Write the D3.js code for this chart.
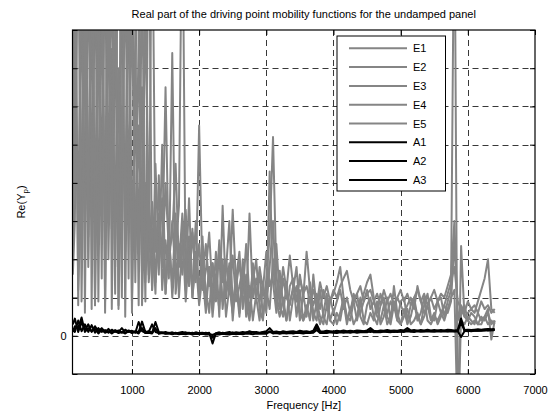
<!DOCTYPE html>
<html><head><meta charset="utf-8">
<script src="https://cdn.jsdelivr.net/npm/d3@7"></script>
<style>
body{margin:0;background:#fff}
svg{display:block}
text{font-family:"Liberation Sans",Arial,Helvetica,sans-serif;fill:#000}
</style>
</head><body>
<svg id="c" width="549" height="411"></svg>
<script>
// ---------------- data ----------------
const freq = [120,150,200,250,300,350,400,450,500,550,600,650,700,750,800,850,900,950,1000,1050,
1100,1150,1200,1250,1300,1350,1400,1450,1500,1550,1600,1650,1700,1750,1800,1850,1900,1950,2000,2050,
2100,2150,2200,2250,2300,2350,2400,2450,2500,2550,2600,2650,2700,2750,2800,2850,2900,2950,3000,3050,
3100,3150,3200,3250,3300,3350,3400,3450,3500,3550,3600,3650,3700,3750,3800,3850,3900,3950,4000,4050,
4100,4150,4200,4250,4300,4350,4400,4450,4500,4550,4600,4650,4700,4750,4800,4850,4900,4950,5000,5050,
5100,5150,5200,5250,5300,5350,5400,5450,5500,5550,5600,5650,5700,5750,5800,5850,5900,5950,6000,6050,
6100,6150,6200,6250,6300,6350,6400];

const E1 = [2.0,12,0.8,9.0,3.0,14,0.7,10,2.5,13,
0.6,8.5,4.0,12,0.8,9.5,2.2,11,0.6,6.0,
2.8,6.5,0.9,12,1.2,4.5,2.0,3.6,1.1,2.8,
1.0,2.2,3.4,12,1.2,2.6,1.0,2.0,0.8,1.6,
0.6,1.8,0.7,2.2,0.5,3.4,1.0,1.9,0.4,1.5,
2.2,0.7,1.6,0.5,1.9,1.0,0.4,1.3,0.6,4.3,
1.4,0.6,1.7,0.8,0.4,1.3,1.5,0.5,1.2,0.4,
0.8,0.4,1.6,0.7,0.3,0.6,1.1,0.4,0.7,0.3,
0.6,1.0,0.4,0.7,0.3,0.5,1.0,0.4,0.3,0.6,
0.4,0.9,0.3,0.5,1.0,0.4,1.3,0.6,0.3,0.5,
0.7,0.3,0.4,0.6,0.3,0.5,0.8,0.4,0.6,0.3,
0.5,0.8,0.6,0.9,2.5,0.6,0.4,0.3,0.5,0.4,
0.3,0.6,0.4,0.5,0.7,-0.1,0.4];

const E2 = [1.6,3.0,11,2.0,13,1.8,9.0,0.8,12,3.5,
10,2.0,7.5,1.1,14,3.0,10,1.5,12,2.0,
5.5,1.6,9.0,2.2,3.5,1.4,3.2,2.0,6.5,1.8,
3.0,1.5,2.4,1.6,3.3,1.3,2.7,1.5,2.4,1.2,
1.7,2.7,1.1,1.6,2.0,0.9,1.4,1.1,2.1,0.9,
1.3,1.8,0.8,3.2,1.0,1.5,0.9,1.4,0.7,1.8,
3.0,1.0,0.7,1.5,1.0,0.8,1.3,0.9,1.6,1.0,
2.2,1.2,0.8,1.1,0.7,1.2,0.8,1.0,0.6,0.9,
1.2,0.7,1.0,0.6,1.1,0.8,0.6,0.9,1.2,0.7,
0.9,0.6,1.1,0.8,0.6,0.9,0.7,1.0,0.8,0.6,
0.8,1.0,0.7,1.3,0.9,0.6,0.8,1.0,0.7,0.9,
0.6,0.8,1.1,1.4,1.8,0.9,0.7,0.5,0.6,0.7,
0.6,0.9,1.2,1.5,2.0,0.7,0.6];

const E3 = [2.4,8.0,2.5,12,0.6,10,3.5,13,0.9,9.0,
2.5,14,0.7,8.0,3.0,12,0.5,9.5,2.5,6.5,
12,0.8,4.0,1.4,2.8,1.1,4.2,1.2,2.5,1.5,
7.4,1.1,2.0,2.8,0.9,2.2,1.2,3.0,0.9,2.0,
1.2,0.6,1.9,0.9,2.3,0.7,1.7,3.0,0.8,1.4,
0.5,1.6,0.8,0.4,1.4,2.0,0.7,0.4,1.5,2.6,
5.2,1.6,0.8,0.5,1.4,0.4,1.0,1.3,0.4,1.1,
0.5,1.4,0.6,0.4,1.2,0.5,0.3,0.9,1.1,1.4,
1.8,1.0,0.5,0.4,0.9,1.1,0.5,0.3,0.8,1.0,
0.5,0.3,0.8,1.0,0.5,0.3,0.8,0.4,0.9,1.0,
0.4,0.8,1.0,0.5,0.3,0.8,1.1,0.5,0.4,0.9,
1.0,0.5,0.9,1.2,12,-3.0,0.6,0.8,0.4,0.6,
0.5,0.3,0.5,0.4,0.6,0.3,0.4];

const E4 = [1.8,10,1.2,4.0,12,2.0,11,3.0,9.5,1.5,
13,3.5,10,1.8,7.0,1.0,13,3.2,9.0,1.4,
8.0,2.0,11,1.6,12,2.2,3.0,1.8,4.0,2.2,
2.6,4.5,1.8,3.2,2.0,1.7,2.8,1.4,5.5,1.5,
2.4,1.3,1.9,1.0,2.5,1.4,2.0,1.2,3.3,1.3,
1.9,1.1,2.4,1.0,1.6,0.9,1.8,1.2,2.2,1.3,
1.6,2.4,1.0,1.8,1.2,2.1,1.3,0.9,1.5,1.1,
1.3,0.9,1.2,0.8,1.4,1.0,1.3,0.9,1.2,1.0,
1.3,1.5,1.7,1.2,0.9,1.1,1.3,0.9,1.1,1.2,
0.9,1.1,0.8,1.2,0.9,1.1,0.8,1.0,1.2,0.9,
1.1,0.8,1.0,1.2,0.9,1.1,0.8,1.0,1.2,0.9,
1.1,1.0,1.3,1.6,3.0,0.4,0.8,0.6,0.9,0.7,
0.8,0.6,0.9,0.7,0.8,0.6,0.7];

const E5 = [2.2,6.0,12,0.9,8.0,2.6,14,0.8,7.0,11,
0.9,9.0,2.8,12,0.7,6.0,3.5,10,0.9,8.0,
0.8,10,1.4,3.5,1.2,3.0,1.6,5.0,1.1,2.6,
1.3,3.2,1.0,2.5,1.4,3.6,1.0,2.2,1.1,2.6,
0.8,1.8,0.5,1.5,0.7,2.0,0.5,1.3,0.6,1.7,
0.6,2.0,0.5,1.3,0.4,1.1,1.6,0.5,1.2,0.7,
2.0,0.9,0.5,1.0,0.4,0.9,1.2,1.8,0.6,0.4,
0.6,1.0,0.4,0.9,0.5,0.3,0.8,0.4,0.3,0.6,
0.4,0.9,0.3,0.7,0.9,0.4,0.8,1.1,1.4,1.6,
1.0,0.5,0.4,0.8,0.3,0.5,0.9,0.4,0.3,0.7,
0.3,0.5,0.9,0.4,0.6,1.0,0.4,0.3,0.5,0.4,
0.6,0.4,0.7,1.0,1.2,-2.5,2.35,0.5,0.4,0.3,
0.4,0.3,0.3,0.5,0.3,0.4,0.3];

const A1 = [0.3,0.45,0.1,0.35,0.15,0.3,0.1,0.25,0.12,0.2,
0.1,0.18,0.08,0.15,0.1,0.2,0.08,0.14,0.1,0.12,
0.1,0.37,0.1,0.12,0.08,0.36,0.1,0.08,0.1,0.07,
0.09,0.06,0.08,0.1,0.07,0.08,0.06,0.09,0.07,0.08,
0.06,0.08,-0.2,0.07,0.09,0.06,0.08,0.1,0.07,0.09,
0.08,0.1,0.08,0.12,0.09,0.1,0.08,0.1,0.12,0.2,
0.1,0.11,0.09,0.12,0.1,0.11,0.12,0.1,0.13,0.11,
0.12,0.1,0.13,0.3,0.12,0.11,0.13,0.12,0.11,0.13,
0.12,0.14,0.12,0.13,0.12,0.14,0.13,0.12,0.14,0.2,
0.13,0.12,0.14,0.13,0.15,0.13,0.14,0.13,0.15,0.14,
0.2,0.14,0.15,0.13,0.15,0.14,0.16,0.14,0.15,0.14,
0.15,0.14,0.16,0.15,0.14,0.15,0.45,0.15,0.16,0.15,
0.16,0.17,0.16,0.17,0.18,0.17,0.18];

const A2 = [0.2,0.1,0.4,0.12,0.3,0.1,0.28,0.08,0.2,0.1,
0.15,0.08,0.16,0.1,0.14,0.08,0.16,0.1,0.13,0.08,
0.36,0.12,0.08,0.1,0.3,0.1,0.07,0.09,0.06,0.08,
0.06,0.08,0.05,0.07,0.09,0.06,0.08,0.05,0.07,0.06,
0.08,0.05,0.02,0.06,0.05,0.08,0.06,0.05,0.09,0.06,
0.07,0.06,0.09,0.07,0.1,0.08,0.07,0.09,0.08,0.1,
0.08,0.1,0.09,0.08,0.1,0.09,0.08,0.1,0.09,0.1,
0.09,0.1,0.11,0.22,0.1,0.09,0.11,0.1,0.09,0.11,
0.1,0.11,0.1,0.12,0.1,0.11,0.1,0.12,0.11,0.1,
0.12,0.11,0.1,0.12,0.11,0.12,0.1,0.11,0.12,0.11,
0.12,0.11,0.12,0.13,0.11,0.12,0.13,0.12,0.11,0.13,
0.12,0.13,0.12,0.13,0.12,0.13,0.35,0.13,0.12,0.13,
0.14,0.13,0.14,0.15,0.14,0.15,0.16];

const A3 = [0.1,0.25,0.2,0.48,0.1,0.2,0.12,0.18,0.06,0.16,
0.08,0.12,0.06,0.12,0.07,0.1,0.06,0.12,0.07,0.1,
0.06,0.2,0.07,0.08,0.06,0.2,0.05,0.07,0.05,0.06,
0.04,0.06,0.04,0.05,0.04,0.06,0.03,0.05,0.04,0.05,
0.03,0.04,-0.05,0.04,0.03,0.05,0.04,0.03,0.05,0.04,
0.05,0.04,0.06,0.05,0.04,0.06,0.05,0.06,0.05,0.12,
0.06,0.07,0.05,0.07,0.06,0.07,0.06,0.08,0.07,0.06,
0.08,0.07,0.08,0.15,0.07,0.08,0.07,0.09,0.08,0.07,
0.09,0.08,0.09,0.08,0.1,0.08,0.09,0.1,0.09,0.15,
0.09,0.1,0.09,0.11,0.1,0.09,0.11,0.1,0.11,0.1,
0.15,0.11,0.1,0.12,0.11,0.12,0.11,0.12,0.11,0.12,
0.11,0.12,0.11,0.12,0.11,0.12,-0.03,0.12,0.13,0.12,
0.13,0.14,0.13,0.14,0.15,0.14,0.15];

const seriesNames = ["E1","E2","E3","E4","E5","A1","A2","A3"];
const seriesValues = [E1,E2,E3,E4,E5,A1,A2,A3];
const seriesColors = ["#858585","#858585","#858585","#858585","#858585","#000","#000","#000"];
const xTicks = [1000,2000,3000,4000,5000,6000,7000];
const xGrid = [1000,2000,3000,4000,5000,6000];
const yTicks = [-1,0,1,2,3,4,5,6,7,8];
const yGrid = [0,1,2,3,4,5,6,7];
const yTickLabels = {"0":"0"};
const titleText = "Real part of the driving point mobility functions for the undamped panel";
const xLabel = "Frequency [Hz]";

// ---------------- layout ----------------
const L = 72.5, R = 535, T = 30, B = 374;
const svg = d3.select("#c");
const x = d3.scaleLinear().domain([115, 7000]).range([L, R]);
const y = d3.scaleLinear().domain([-1, 8]).range([B, T]);

svg.append("defs").append("clipPath").attr("id","clip")
  .append("rect").attr("x",L).attr("y",T).attr("width",R-L).attr("height",B-T);

// grid
const grid = svg.append("g").attr("stroke","#222").attr("stroke-width",0.9).attr("stroke-dasharray","6,4");
grid.selectAll("line.vx").data(xGrid).join("line")
  .attr("x1",d=>Math.round(x(d))+0.5).attr("x2",d=>Math.round(x(d))+0.5).attr("y1",T).attr("y2",B);
grid.selectAll("line.hy").data(yGrid).join("line").attr("class","hy")
  .attr("y1",d=>Math.round(y(d))+0.5).attr("y2",d=>Math.round(y(d))+0.5).attr("x1",L).attr("x2",R);

// series
const line = d3.line().x(d=>x(d[0])).y(d=>y(d[1]));
const plot = svg.append("g").attr("clip-path","url(#clip)");
seriesValues.forEach((vals,i)=>{
  plot.append("path").datum(d3.zip(freq, vals))
    .attr("fill","none").attr("stroke",seriesColors[i]).attr("stroke-width",2)
    .attr("stroke-linejoin","round").attr("d",line);
});

// axes
const fs = "11px";
const gx = svg.append("g").attr("transform",`translate(0,${B})`)
  .call(d3.axisBottom(x).tickValues(xTicks).tickSizeInner(-5).tickSizeOuter(0).tickPadding(12).tickFormat(d3.format("d")));
const gxt = svg.append("g").attr("transform",`translate(0,${T})`)
  .call(d3.axisTop(x).tickValues(xTicks).tickSizeInner(-5).tickSizeOuter(0).tickFormat(""));
const gy = svg.append("g").attr("transform",`translate(${L},0)`)
  .call(d3.axisLeft(y).tickValues(yTicks).tickSizeInner(-5).tickSizeOuter(0).tickPadding(6)
    .tickFormat(d=>yTickLabels[String(d)]||""));
const gyr = svg.append("g").attr("transform",`translate(${R},0)`)
  .call(d3.axisRight(y).tickValues(yTicks).tickSizeInner(-5).tickSizeOuter(0).tickFormat(""));
[gx,gxt,gy,gyr].forEach(g=>{
  g.select(".domain").remove();
  g.selectAll(".tick line").attr("stroke","#000");
  g.selectAll("text").attr("font-size",fs).attr("font-family",'"Liberation Sans",Arial,sans-serif').attr("fill","#000");
});

// box
svg.append("rect").attr("x",L).attr("y",T).attr("width",R-L).attr("height",B-T)
  .attr("fill","none").attr("stroke","#000").attr("stroke-width",1.2);

// title and labels
svg.append("text").attr("x",(L+R)/2).attr("y",18).attr("text-anchor","middle").attr("font-size",fs).text(titleText);
svg.append("text").attr("x",(L+R)/2).attr("y",409).attr("text-anchor","middle").attr("font-size",fs).text(xLabel);
const yl = svg.append("text").attr("transform",`translate(25,${(T+B)/2}) rotate(-90)`)
  .attr("text-anchor","middle").attr("font-size",fs);
yl.append("tspan").text("Re(Y");
yl.append("tspan").attr("font-size","8px").attr("dy","3").text("p");
yl.append("tspan").attr("dy","-3").text(")");

// legend
const lg = svg.append("g");
lg.append("rect").attr("x",337).attr("y",36).attr("width",108.5).attr("height",155)
  .attr("fill","#fff").attr("stroke","#000").attr("stroke-width",1);
seriesNames.forEach((n,i)=>{
  const yy = 48.3 + i*18.8;
  lg.append("line").attr("x1",349).attr("x2",407).attr("y1",yy).attr("y2",yy)
    .attr("stroke",seriesColors[i]).attr("stroke-width",2);
  lg.append("text").attr("x",413).attr("y",yy+4).attr("font-size",fs).text(n);
});
</script>
</body></html>
